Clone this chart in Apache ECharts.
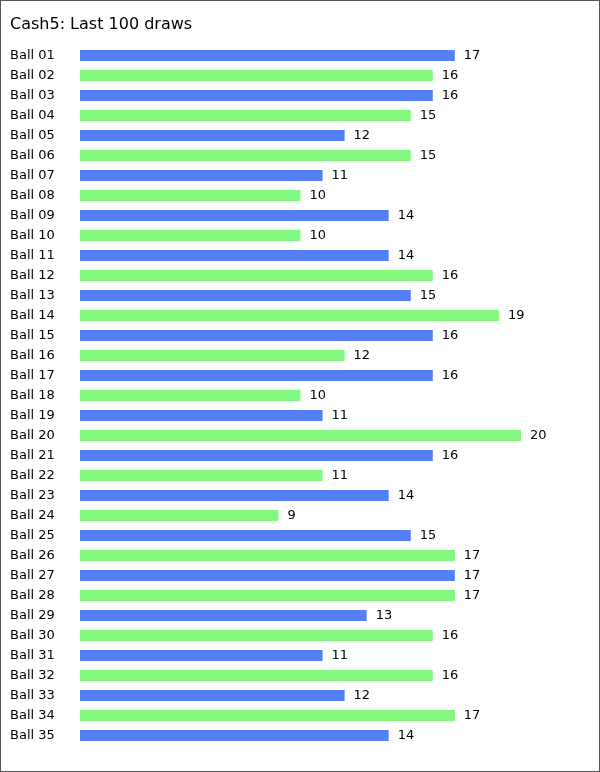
<!DOCTYPE html>
<html>
<head>
<meta charset="utf-8">
<script src="https://cdn.jsdelivr.net/npm/echarts@6/dist/echarts.min.js"></script>
<style>
html,body{margin:0;padding:0;background:#fff;}
#chart{position:absolute;left:0;top:0;width:600px;height:772px;}
#frame{position:absolute;left:0;top:0;width:600px;height:772px;box-sizing:border-box;border:1px solid #555;pointer-events:none;}
</style>
</head>
<body>
<div id="chart"></div><div id="frame"></div>
<script>
const titleText = "Cash5: Last 100 draws";
const categories = ["Ball 01","Ball 02","Ball 03","Ball 04","Ball 05","Ball 06","Ball 07","Ball 08","Ball 09","Ball 10",
"Ball 11","Ball 12","Ball 13","Ball 14","Ball 15","Ball 16","Ball 17","Ball 18","Ball 19","Ball 20",
"Ball 21","Ball 22","Ball 23","Ball 24","Ball 25","Ball 26","Ball 27","Ball 28","Ball 29","Ball 30",
"Ball 31","Ball 32","Ball 33","Ball 34","Ball 35"];
const counts = [17,16,16,15,12,15,11,10,14,10,14,16,15,19,16,12,16,10,11,20,16,11,14,9,15,17,17,17,13,16,11,16,12,17,14];
const rowColors = ["#5580f8","#82f880"];

const chart = echarts.init(document.getElementById('chart'), null, {renderer:'canvas'});
const font = "'DejaVu Sans', Verdana, sans-serif";
chart.setOption({
  animation:false,
  title:{text:titleText,left:10,top:17,padding:0,textStyle:{fontSize:16,fontWeight:'normal',color:'#000',fontFamily:font}},
  grid:{left:80,top:45.5,width:441,height:700,containLabel:false},
  xAxis:{type:'value',min:0,max:20,show:false},
  yAxis:{type:'category',data:categories,inverse:true,
    axisLine:{show:false},axisTick:{show:false},splitLine:{show:false},
    axisLabel:{align:'left',margin:70,fontSize:13,color:'#000',fontFamily:font,padding:[1,0,0,0]}},
  series:[{type:'bar',barWidth:11,
    data:counts.map((v,i)=>({value:v,itemStyle:{color:rowColors[i%2]}})),
    label:{show:true,position:'right',distance:9,fontSize:13,color:'#000',fontFamily:font,padding:[1,0,0,0]}}]
});
</script>
</body>
</html>
